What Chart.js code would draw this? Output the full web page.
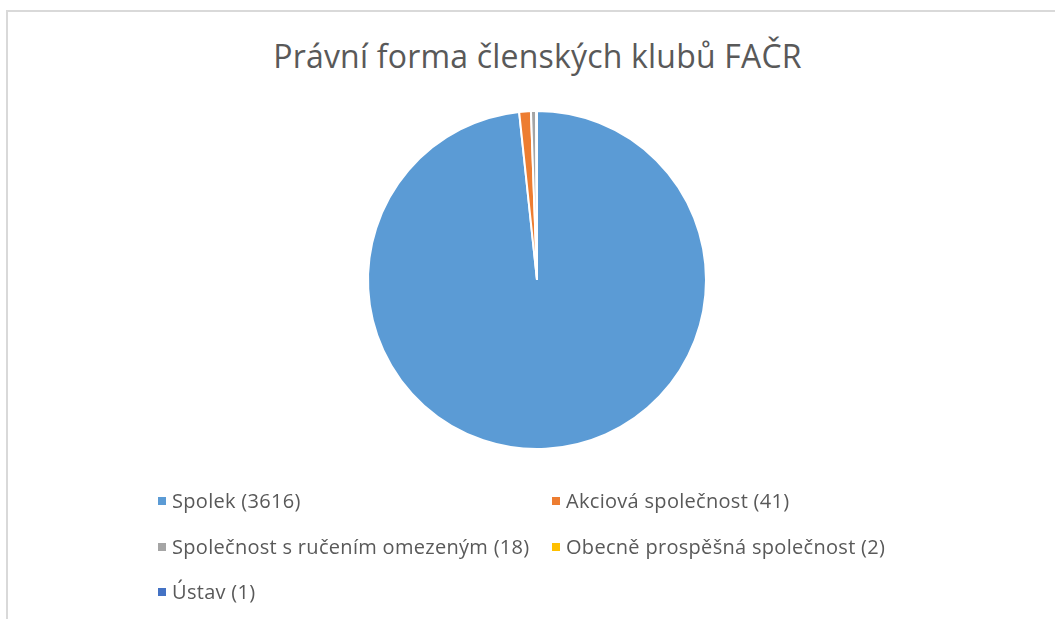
<!DOCTYPE html>
<html>
<head>
<meta charset="utf-8">
<script src="https://cdn.jsdelivr.net/npm/chart.js@4/dist/chart.umd.min.js"></script>
<style>
  html, body { margin: 0; padding: 0; background: #fff; }
  body { width: 1055px; height: 619px; position: relative; overflow: hidden; font-family: "Open Sans", sans-serif; }
  .frame { position: absolute; left: 6px; top: 10px; width: 1100px; height: 700px; border-top: 2px solid #D9D9D9; border-left: 2px solid #D9D9D9; }
  .title { position: absolute; left: 0; width: 1075px; top: 34px; text-align: center; font-size: 32px; color: #595959; letter-spacing: 0.2px; }
  #chartBox { position: absolute; left: 0; top: 0; width: 1055px; height: 619px; }
  .legend { position: absolute; left: 0; top: 0; }
  .item { position: absolute; font-size: 20px; color: #595959; white-space: nowrap; letter-spacing: 0.3px; }
  .item span.sw { display: inline-block; width: 8px; height: 8px; margin-right: 6px; vertical-align: 3px; }
</style>
</head>
<body>
<div class="frame"></div>
<div class="title">Právní forma členských klubů FAČR</div>
<div id="chartBox"><canvas id="pie"></canvas></div>
<div class="legend" id="legend"></div>
<script>
// data
const categories = ["Spolek", "Akciová společnost", "Společnost s ručením omezeným", "Obecně prospěšná společnost", "Ústav"];
const counts = [3616, 41, 18, 2, 1];
const colors = ["#5B9BD5", "#ED7D31", "#A5A5A5", "#FFC000", "#4472C4"];

// legend positions (2 columns)
const legendPos = [[158, 487], [552, 487], [158, 533], [552, 533], [158, 578]];

var ctx = document.getElementById('pie').getContext('2d');
var pieChart = new Chart(ctx, {
    type: 'pie',
    data: {
        labels: categories,
        datasets: [{
            data: counts,
            backgroundColor: colors,
            borderColor: '#ffffff',
            borderWidth: 2
        }]
    },
    options: {
        responsive: true,
        maintainAspectRatio: false,
        animation: false,
        layout: { padding: { top: 110, bottom: 169, left: 367, right: 348 } },
        plugins: {
            legend: { display: false },
            tooltip: { enabled: false }
        }
    }
});

// html legend
let legend = document.getElementById('legend');
for (let i = 0; i < categories.length; i++) {
    let d = document.createElement('div');
    d.className = 'item';
    d.style.left = legendPos[i][0] + 'px';
    d.style.top = legendPos[i][1] + 'px';
    d.innerHTML = '<span class="sw" style="background:' + colors[i] + '"></span>' + categories[i] + ' (' + counts[i] + ')';
    legend.appendChild(d);
}
</script>
</body>
</html>
